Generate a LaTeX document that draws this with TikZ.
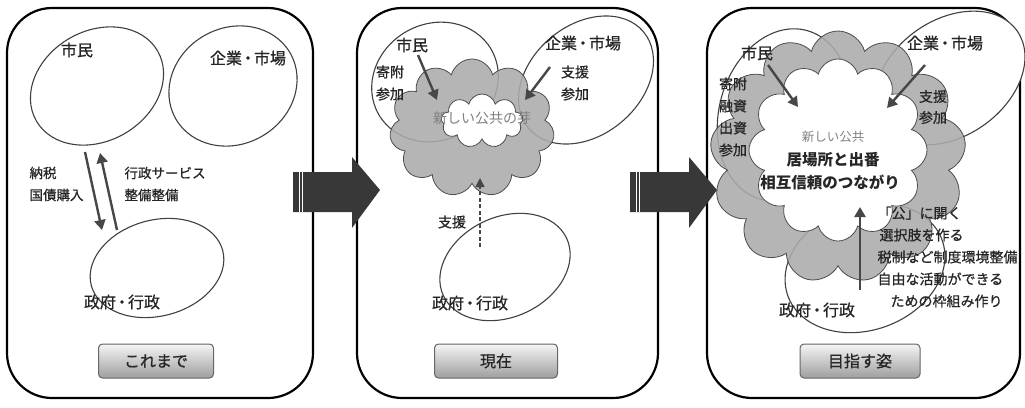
\documentclass[tikz,border=0pt]{standalone}
\usepackage{fontspec}
\setmainfont{Noto Sans CJK JP}
\newfontfamily\jpmed[FakeBold=0.8]{Noto Sans CJK JP}
\usetikzlibrary{shapes.geometric,shapes.symbols,arrows.meta}
\begin{document}
\begin{tikzpicture}[x=1pt,y=-1pt,
  panel/.style={draw=black, line width=2.2pt, rounded corners=45pt, rectangle},
  ell/.style={ellipse, draw=black!75, line width=1.1pt, fill=white},
  lbl/.style={font=\jpmed\fontsize{16}{18}\selectfont, text=black!85},
  small/.style={font=\jpmed\fontsize{14}{22}\selectfont, text=black!85, align=center},
  cloudg/.style={cloud, cloud puffs=11, cloud ignores aspect, draw=black!70, fill=black!33, fill opacity=0.88, line width=0.8pt},
  cloudw/.style={cloud, cloud puffs=9, cloud ignores aspect, draw=black!70, fill=white, line width=0.8pt},
  btn/.style={draw=black!60, rounded corners=4pt, top color=black!4, bottom color=black!38, minimum height=34, font=\jpmed\fontsize{16}{18}\selectfont, text=black!85, line width=1pt},
  arr/.style={draw=black!72, line width=2.4pt, -{Triangle[length=10pt,width=11pt]}},
  darr/.style={draw=black!72, line width=1.6pt, dash pattern=on 4pt off 2.5pt, -{Triangle[length=9pt,width=9pt]}},
  bigarrow/.style={fill=black!78}
]
\useasboundingbox (0,0) rectangle (1025,407);

% ---------------- Panel 1 ----------------
\node[panel, minimum width=306, minimum height=390] (p1) at (160,203) {};
\node[ell, minimum width=140, minimum height=110, rotate=30] (c1) at (97,86) {};
\node[ell, minimum width=132, minimum height=116, rotate=30] (m1) at (233,86) {};
\node[ell, minimum width=136, minimum height=96, rotate=15] (g1) at (157,268) {};
\node[lbl] (c1t) at (77,50) {市民};
\node[lbl] (m1t) at (248,58) {企業\kern-2pt・\kern-2pt市場};
\node[lbl] (g1t) at (122,302) {政府\kern-2pt・\kern-2pt行政};
\coordinate (d1s) at (85,152);
\coordinate (d1e) at (102,230);
\coordinate (u1s) at (117,230);
\coordinate (u1e) at (100,153);
\draw[arr] (d1s) -- (d1e);
\draw[arr] (u1s) -- (u1e);
\node[small, align=left, anchor=west, font=\jpmed\fontsize{13.5}{22}\selectfont] (t1a) at (26,184) {納税\\国債購入};
\node[small, align=left, anchor=west, font=\jpmed\fontsize{13.5}{22}\selectfont] (t1b) at (121,184) {行政サービス\\整備整備};
\node[btn, minimum width=115] (b1) at (156,361) {これまで};

% ---------------- Panel 2 ----------------
\node[panel, minimum width=301, minimum height=390] (p2) at (507.5,203) {};
\node[ell, minimum width=130, minimum height=116, rotate=30] (c2) at (435,82) {};
\node[ell, minimum width=150, minimum height=110, rotate=40] (m2) at (586,80) {};
\node[ell, minimum width=136, minimum height=100, rotate=25] (g2) at (505,267) {};
\node[cloudg, minimum width=165, minimum height=138] (k2) at (472,128) {};
\node[cloudw, minimum width=82, minimum height=54] (w2) at (482,121) {};
\node[font=\fontsize{14}{16}\selectfont, text=black!50] (n2) at (482,118) {新しい公共の芽};
\node[lbl] (c2t) at (412,45) {市民};
\node[lbl] (m2t) at (583,43) {企業\kern-2pt・\kern-2pt市場};
\node[small] (c2l) at (390,83) {寄附\\参加};
\node[small] (m2l) at (575,83) {支援\\参加};
\coordinate (a2s) at (418,55);
\coordinate (a2e) at (437,100);
\coordinate (b2s) at (550,67);
\coordinate (b2e) at (525,100);
\draw[arr] (a2s) -- (a2e);
\draw[arr] (b2s) -- (b2e);
\coordinate (g2s) at (480,247);
\coordinate (g2e) at (480,178);
\draw[darr] (g2s) -- (g2e);
\node[small] (s2) at (452,222) {支援};
\node[lbl] (g2t) at (470,303) {政府\kern-2pt・\kern-2pt行政};
\node[btn, minimum width=123] (b2) at (496,361) {現在};

% ---------------- Panel 3 ----------------
\node[panel, minimum width=313, minimum height=390] (p3) at (863.5,203) {};
\node[ell, minimum width=175, minimum height=130, rotate=75] (c3) at (784,115) {};
\node[ell, minimum width=164, minimum height=116, rotate=35] (m3) at (950,78) {};
\node[ell, minimum width=164, minimum height=124, rotate=20] (g3) at (865,268) {};
\node[cloudg, cloud puffs=13, minimum width=256, minimum height=252] (k3) at (838,157) {};
\node[cloudw, cloud puffs=12, minimum width=178, minimum height=182] (w3) at (838,150) {};
\node[lbl] (c3t) at (757,53) {市民};
\node[lbl] (m3t) at (945,43) {企業\kern-2pt・\kern-2pt市場};
\node[small] (c3l) at (733,117) {寄附\\融資\\出資\\参加};
\node[small, font=\jpmed\fontsize{14}{21}\selectfont] (m3l) at (933,107) {支援\\参加};
\node[font=\fontsize{12.5}{14}\selectfont, text=black!50] (n3a) at (833,137) {新しい公共};
\node[font=\fontsize{15.5}{18}\selectfont\bfseries, text=black!85] (n3b) at (833,160) {居場所と出番};
\node[font=\fontsize{15.5}{18}\selectfont\bfseries, text=black!85] (n3c) at (830,182) {相互信頼のつながり};
\coordinate (a3s) at (768,65);
\coordinate (a3e) at (798,107);
\coordinate (b3s) at (925,65);
\coordinate (b3e) at (887,108);
\coordinate (g3s) at (860,290);
\coordinate (g3e) at (860,207);
\draw[arr] (a3s) -- (a3e);
\draw[arr] (b3s) -- (b3e);
\draw[arr] (g3s) -- (g3e);
\node[small, align=left, anchor=west, font=\jpmed\fontsize{14}{22}\selectfont] (r3) at (874,257) {「公」に開く\\\hspace*{2pt}選択肢を作る\\税制など制度環境整備\\自由な活動ができる\\\hspace*{13pt}ための枠組み作り};
\node[lbl] (g3t) at (817,310) {政府\kern-2pt・\kern-2pt行政};
\node[btn, minimum width=120] (b3) at (860,361) {目指す姿};

% ---------------- big arrows ----------------
\fill[bigarrow] (293,172) -- (352,172) -- (352,157) -- (380,190) -- (352,228) -- (352,212) -- (293,212) -- cycle;
\draw[white, line width=0.8pt] (299,172) -- (299,212) (302,172) -- (302,212);
\fill[bigarrow] (630,172) -- (689,172) -- (689,157) -- (717,190) -- (689,228) -- (689,212) -- (630,212) -- cycle;
\draw[white, line width=0.8pt] (636,172) -- (636,212) (639,172) -- (639,212);
\end{tikzpicture}
\end{document}
